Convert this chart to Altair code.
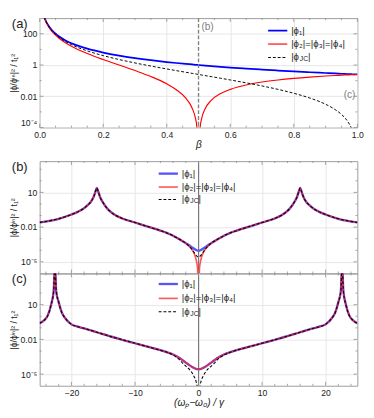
import altair as alt
import pandas as pd

# ---------------- data: panel (a) ----------------
beta = [0.01, 0.015, 0.02, 0.03, 0.04, 0.05, 0.06, 0.08, 0.1, 0.12, 0.15, 0.2, 0.25, 0.3, 0.35,
        0.4, 0.43, 0.46, 0.48, 0.49, 0.495, 0.5, 0.505, 0.51, 0.52, 0.54, 0.57, 0.6, 0.65, 0.7,
        0.75, 0.8, 0.85, 0.9, 0.93, 0.95, 0.97, 0.98, 0.99, 1.0]
phi1_a = [2500, 1111, 625, 278, 156, 100, 69.4, 39.1, 25, 17.4, 11.1, 6.25, 4.0, 2.78, 2.04,
          1.56, 1.35, 1.18, 1.085, 1.04, 1.02, 1.0, 0.98, 0.961, 0.925, 0.857, 0.769, 0.694, 0.592, 0.510,
          0.444, 0.391, 0.346, 0.309, 0.289, 0.277, 0.266, 0.260, 0.255, 0.25]
phi2_a = [2401, 1045, 576, 245, 132, 81, 53.8, 27.6, 16, 10.0, 5.44, 2.25, 1.0, 0.444, 0.184,
          0.0625, 0.0265, 0.00756, 0.00174, 4.16e-4, 1.02e-4, 1e-9, 9.8e-5, 3.84e-4, 1.48e-3, 5.49e-3, 0.0151, 0.0278, 0.0533, 0.0816,
          0.111, 0.1406, 0.1696, 0.1975, 0.2138, 0.2244, 0.2348, 0.2399, 0.245, 0.25]
phijc_a = [2450, 1078, 600, 261, 144, 90.25, 61.4, 33.06, 20.25, 13.44, 8.03, 4.0, 2.25, 1.361, 0.862,
           0.5625, 0.439, 0.3445, 0.2934, 0.2708, 0.2603, 0.25, 0.2402, 0.2308, 0.2130, 0.1814, 0.1423, 0.111, 0.0725, 0.0459,
           0.0278, 0.0156, 0.00779, 0.00309, 0.001416, 6.93e-4, 2.39e-4, 1.04e-4, 2.55e-5, 1e-9]
marker_beta = [0.5]
label_c_beta = [1.0]
label_c_val = [0.012]
xmaj_a = [0, 0.2, 0.4, 0.6, 0.8, 1.0]
xmin_a = [0.05, 0.1, 0.15, 0.25, 0.3, 0.35, 0.45, 0.5, 0.55, 0.65, 0.7, 0.75, 0.85, 0.9, 0.95]
ymaj_a = [1e-4, 0.01, 1, 100]
ymin_a = [1e-3, 0.1, 10]

# ---------------- data: panel (b) ----------------
delta_b = [-25, -22, -20, -19, -18, -17.5, -17, -16.5, -16.2, -16, -15.8, -15.5, -15, -14.5, -14,
           -13, -12, -10, -8, -6, -5, -4, -3, -2, -1.5, -1, -0.75, -0.5, -0.3, -0.15,
           0,
           0.15, 0.3, 0.5, 0.75, 1, 1.5, 2, 3, 4, 5, 6, 8, 10, 12, 13,
           14, 14.5, 15, 15.5, 15.8, 16, 16.2, 16.5, 17, 17.5, 18, 19, 20, 22, 25]
phi1_b = [0.0257, 0.0525, 0.123, 0.209, 0.437, 0.76, 1.41, 4.17, 12.6, 24, 12.6, 3.98, 1.26, 0.501, 0.251,
          0.1, 0.0562, 0.0251, 0.0112, 0.005, 0.00316, 0.00178, 8.9e-4, 4.17e-4, 2.69e-4, 1.78e-4, 1.41e-4, 1.17e-4, 1.02e-4, 9.5e-5,
          9.3e-5,
          9.5e-5, 1.02e-4, 1.17e-4, 1.41e-4, 1.78e-4, 2.69e-4, 4.17e-4, 8.9e-4, 0.00178, 0.00316, 0.005, 0.0112, 0.0251, 0.0562, 0.1,
          0.251, 0.501, 1.26, 3.98, 12.6, 24, 12.6, 4.17, 1.41, 0.76, 0.437, 0.209, 0.123, 0.0525, 0.0257]
phi2_b = [0.0257, 0.0525, 0.123, 0.209, 0.437, 0.76, 1.41, 4.17, 12.6, 24, 12.6, 3.98, 1.26, 0.501, 0.251,
          0.1, 0.0562, 0.0251, 0.0112, 0.005, 0.00316, 0.00178, 8.9e-4, 3.98e-4, 2.29e-4, 1.1e-4, 6.3e-5, 2.75e-5, 1.0e-5, 2.5e-6,
          1e-9,
          2.5e-6, 1.0e-5, 2.75e-5, 6.3e-5, 1.1e-4, 2.29e-4, 3.98e-4, 8.9e-4, 0.00178, 0.00316, 0.005, 0.0112, 0.0251, 0.0562, 0.1,
          0.251, 0.501, 1.26, 3.98, 12.6, 24, 12.6, 4.17, 1.41, 0.76, 0.437, 0.209, 0.123, 0.0525, 0.0257]
phijc_b = [0.0257, 0.0525, 0.123, 0.209, 0.437, 0.76, 1.41, 4.17, 12.6, 24, 12.6, 3.98, 1.26, 0.501, 0.251,
           0.1, 0.0562, 0.0251, 0.0112, 0.005, 0.00316, 0.00178, 8.9e-4, 4.07e-4, 2.34e-4, 1.12e-4, 7.1e-5, 4.47e-5, 3.31e-5, 2.82e-5,
           2.63e-5,
           2.82e-5, 3.31e-5, 4.47e-5, 7.1e-5, 1.12e-4, 2.34e-4, 4.07e-4, 8.9e-4, 0.00178, 0.00316, 0.005, 0.0112, 0.0251, 0.0562, 0.1,
           0.251, 0.501, 1.26, 3.98, 12.6, 24, 12.6, 4.17, 1.41, 0.76, 0.437, 0.209, 0.123, 0.0525, 0.0257]

# ---------------- data: panel (c) ----------------
delta_c = [-25, -24.3, -23.7, -23.2, -22.8, -22.6, -22.4, -22, -21.5, -21, -20, -19, -18, -16, -14,
           -12, -10, -8, -6, -5, -4, -3, -2.5, -2, -1.5, -1, -0.7, -0.4, -0.2,
           0,
           0.2, 0.4, 0.7, 1, 1.5, 2, 2.5, 3, 4, 5, 6, 8, 10, 12,
           14, 16, 18, 19, 20, 21, 21.5, 22, 22.4, 22.6, 22.8, 23.2, 23.7, 24.3, 25]
phi1_c = [0.251, 0.447, 1.26, 10, 150, 31600, 150, 15.8, 2.0, 0.708, 0.2, 0.126, 0.0891, 0.0417, 0.0191,
          0.00933, 0.00468, 0.00234, 0.00117, 7.94e-4, 5.01e-4, 2.51e-4, 1.58e-4, 1.0e-4, 6.31e-5, 4.17e-5, 3.39e-5, 2.88e-5, 2.69e-5,
          2.63e-5,
          2.69e-5, 2.88e-5, 3.39e-5, 4.17e-5, 6.31e-5, 1.0e-4, 1.58e-4, 2.51e-4, 5.01e-4, 7.94e-4, 0.00117, 0.00234, 0.00468, 0.00933,
          0.0191, 0.0417, 0.0891, 0.126, 0.2, 0.708, 2.0, 15.8, 150, 31600, 150, 10, 1.26, 0.447, 0.251]
phi2_c = [0.251, 0.447, 1.26, 10, 150, 31600, 150, 15.8, 2.0, 0.708, 0.2, 0.126, 0.0891, 0.0417, 0.0191,
          0.00933, 0.00468, 0.00234, 0.00117, 7.94e-4, 5.01e-4, 2.51e-4, 1.58e-4, 1.0e-4, 6.31e-5, 4.17e-5, 3.39e-5, 2.88e-5, 2.69e-5,
          2.63e-5,
          2.69e-5, 2.88e-5, 3.39e-5, 4.17e-5, 6.31e-5, 1.0e-4, 1.58e-4, 2.51e-4, 5.01e-4, 7.94e-4, 0.00117, 0.00234, 0.00468, 0.00933,
          0.0191, 0.0417, 0.0891, 0.126, 0.2, 0.708, 2.0, 15.8, 150, 31600, 150, 10, 1.26, 0.447, 0.251]
phijc_c = [0.251, 0.447, 1.26, 10, 150, 31600, 150, 15.8, 2.0, 0.708, 0.2, 0.126, 0.0891, 0.0417, 0.0191,
           0.00933, 0.00468, 0.00234, 0.00117, 7.94e-4, 4.47e-4, 1.78e-4, 8.9e-5, 5.01e-5, 2.82e-5, 1.26e-5, 6.3e-6, 2.5e-6, 6.3e-7,
           1e-10,
           6.3e-7, 2.5e-6, 6.3e-6, 1.26e-5, 2.82e-5, 5.01e-5, 8.9e-5, 1.78e-4, 4.47e-4, 7.94e-4, 0.00117, 0.00234, 0.00468, 0.00933,
           0.0191, 0.0417, 0.0891, 0.126, 0.2, 0.708, 2.0, 15.8, 150, 31600, 150, 10, 1.26, 0.447, 0.251]
xmaj_bc = [-20, -10, 0, 10, 20]
xmin_bc = [-24, -22, -18, -16, -14, -12, -8, -6, -4, -2, 2, 4, 6, 8, 12, 14, 16, 18, 22, 24]
ymaj_bc = [1e-5, 0.01, 10]
ymin_bc = [1e-4, 1e-3, 0.1, 1, 100, 1000]

# ---------------- style ----------------
FONT = "Liberation Sans"
BLUE = "#0000ff"
RED = "#ff0000"
GRID = "#e6e6e6"
FRAME = "#9a9a9a"
TICK = "#8a8a8a"
TXT = "#222222"
W = 331
HA, HB, HC = 114, 117, 117
YTITLE = "|ϕ/ϕⁱⁿ|² / t₁²"
LEFT = -29


def long_df(x, series):
    rows = []
    for name, vals in series:
        for xi, vi in zip(x, vals):
            rows.append({"x": xi, "v": vi, "s": name})
    return pd.DataFrame(rows)


def x_axis(values, fmt, labels, title, title_italic=True):
    kw = dict(values=values, grid=True, gridColor=GRID, domain=False, ticks=False, tickSize=0,
              labelFont=FONT, labelFontSize=9, labelColor=TXT, labelPadding=3, labelFlush=False)
    if fmt:
        kw["format"] = fmt
    if not labels:
        kw["labels"] = False
    if title:
        kw.update(title=title, titleFont=FONT, titleFontSize=10.5, titleFontWeight="normal",
                  titleColor=TXT, titlePadding=1)
        if title_italic:
            kw["titleFontStyle"] = "italic"
    else:
        kw["title"] = None
    return alt.Axis(**kw)


def y_axis(values, expr, flush):
    return alt.Axis(values=values, labelExpr=expr, grid=True, gridColor=GRID, domain=False,
                    ticks=False, tickSize=0, labelFont=FONT, labelFontSize=9, labelFlush=flush,
                    labelColor=TXT, labelPadding=3, title=YTITLE, titleFont=FONT, titleFontSize=9,
                    titleFontWeight="normal", titleColor=TXT, titlePadding=2)


def lines(df, xenc, yenc, styles):
    base = alt.Chart(df).encode(x=xenc, y=yenc)
    out = []
    for name, color, width, dash, op in styles:
        kw = dict(color=color, strokeWidth=width, opacity=op, clip=True, interpolate="monotone")
        if dash:
            kw["strokeDash"] = dash
        out.append(base.transform_filter(alt.datum.s == name).mark_line(**kw))
    return out


def frame_ticks(xmaj, xmin, ymaj, ymin, xscale, yscale, w, h):
    out = []
    for vals, size in [(xmaj, 4), (xmin, 2)]:
        d = pd.DataFrame({"x": vals})
        for y0, y1 in [(0, size), (h, h - size)]:
            out.append(alt.Chart(d).mark_rule(color=TICK, strokeWidth=0.8).encode(
                x=alt.X("x:Q", scale=xscale), y=alt.value(y0), y2=alt.value(y1)))
    for vals, size in [(ymaj, 4), (ymin, 2)]:
        d = pd.DataFrame({"v": vals})
        for x0, x1 in [(0, size), (w, w - size)]:
            out.append(alt.Chart(d).mark_rule(color=TICK, strokeWidth=0.8).encode(
                y=alt.Y("v:Q", scale=yscale), x=alt.value(x0), x2=alt.value(x1)))
    return out


def legend(x0, ys, styles, labels):
    one = pd.DataFrame({"k": [0]})
    out = []
    for y, (name, color, width, dash, op), lab in zip(ys, styles, labels):
        kw = dict(color=color, strokeWidth=width, opacity=op)
        if dash:
            kw["strokeDash"] = dash
        out.append(alt.Chart(one).mark_rule(**kw).encode(
            x=alt.value(x0), x2=alt.value(x0 + 20), y=alt.value(y)))
        tx = x0 + 24
        if isinstance(lab, tuple):
            main, sub, tail, w1, w2 = lab
            out.append(alt.Chart(one).mark_text(font=FONT, fontSize=10, align="left", baseline="middle",
                                                color=TXT).encode(x=alt.value(tx), y=alt.value(y), text=alt.value(main)))
            out.append(alt.Chart(one).mark_text(font=FONT, fontSize=7, align="left", baseline="middle",
                                                color=TXT).encode(x=alt.value(tx + w1), y=alt.value(y + 2), text=alt.value(sub)))
            out.append(alt.Chart(one).mark_text(font=FONT, fontSize=10, align="left", baseline="middle",
                                                color=TXT).encode(x=alt.value(tx + w2), y=alt.value(y), text=alt.value(tail)))
        else:
            out.append(alt.Chart(one).mark_text(font=FONT, fontSize=10, align="left", baseline="middle",
                                                color=TXT).encode(x=alt.value(tx), y=alt.value(y), text=alt.value(lab)))
    return out


def panel_label(t):
    return alt.Chart(pd.DataFrame({"k": [0]})).mark_text(
        font=FONT, fontSize=13.5, align="left", baseline="top", color=TXT
    ).encode(x=alt.value(LEFT), y=alt.value(-1), text=alt.value(t))


LABELS = ["|ϕ₁|", "|ϕ₂|=|ϕ₃|=|ϕ₄|", ("|ϕ", "JC", "|", 9, 17.5)]

# ---------------- panel (a) ----------------
df_a = long_df(beta, [("p1", phi1_a), ("p2", phi2_a), ("jc", phijc_a)])
xs_a = alt.Scale(domain=[0, 1], nice=False, zero=False)
ys_a = alt.Scale(type="log", domain=[1e-4, 1e3], nice=False)
xa = alt.X("x:Q", scale=xs_a, axis=x_axis(xmaj_a, ".1f", True, "β"))
ya = alt.Y("v:Q", scale=ys_a,
           axis=y_axis(ymaj_a,
                       "datum.value < 0.001 ? '10⁻⁴' : datum.value < 0.1 ? '0.01' : datum.value < 10 ? '1' : '100'",
                       True))
sty_a = [("p1", BLUE, 1.8, None, 1), ("p2", RED, 1.2, None, 1), ("jc", "#000000", 1.0, [3, 2], 1)]
vline = alt.Chart(pd.DataFrame({"x": marker_beta})).mark_rule(
    color="#808080", strokeWidth=1.4, strokeDash=[4, 2]).encode(x=alt.X("x:Q", scale=xs_a))
lab_b = alt.Chart(pd.DataFrame({"x": marker_beta})).mark_text(
    font=FONT, fontSize=10.5, color="#808080", align="left", baseline="top", dx=3
).encode(x=alt.X("x:Q", scale=xs_a), y=alt.value(4), text=alt.value("(b)"))
lab_c = alt.Chart(pd.DataFrame({"x": label_c_beta, "v": label_c_val})).mark_text(
    font=FONT, fontSize=10.5, color="#808080", align="right", baseline="middle", dx=-2
).encode(x=alt.X("x:Q", scale=xs_a), y=alt.Y("v:Q", scale=ys_a), text=alt.value("(c)"))
leg_a = legend(238, [13, 27, 41], sty_a, LABELS)
ticks_a = frame_ticks(xmaj_a, xmin_a, ymaj_a, ymin_a, xs_a, ys_a, W, HA)
pa = alt.layer(*lines(df_a, xa, ya, sty_a), vline, *ticks_a, lab_b, lab_c, *leg_a,
               panel_label("(a)")).properties(width=W, height=HA)

# ---------------- panels (b), (c) ----------------
sty_bc = [("p1", "#2b2bff", 2.4, None, 0.8), ("p2", "#ff2020", 1.7, None, 0.75), ("jc", "#000000", 1.1, [3, 2], 1)]
yexpr = "datum.value < 0.001 ? '10⁻⁵' : datum.value < 1 ? '0.01' : '10'"
zero_df = pd.DataFrame({"x": [0]})


def panel_bc(delta, p1, p2, pjc, show_x, tag, legy):
    df = long_df(delta, [("p1", p1), ("p2", p2), ("jc", pjc)])
    xs = alt.Scale(domain=[-25, 25], nice=False, zero=False)
    ys = alt.Scale(type="log", domain=[1e-6, 5000], nice=False)
    xe = alt.X("x:Q", scale=xs,
               axis=x_axis(xmaj_bc, "d", show_x, "(ωₚ−ω₀) / γ" if show_x else None))
    ye = alt.Y("v:Q", scale=ys, axis=y_axis(ymaj_bc, yexpr, False))
    zl = alt.Chart(zero_df).mark_rule(color="#707070", strokeWidth=1).encode(x=alt.X("x:Q", scale=xs))
    leg = legend(124, legy, sty_bc, LABELS)
    h = HB if not show_x else HC
    tk = frame_ticks(xmaj_bc, xmin_bc, ymaj_bc, ymin_bc, xs, ys, W, h)
    ls = lines(df, xe, ye, sty_bc)
    return alt.layer(ls[0], zl, *ls[1:], *tk, *leg,
                     panel_label(tag)).properties(width=W, height=h)


pb = panel_bc(delta_b, phi1_b, phi2_b, phijc_b, False, "(b)", [13, 27, 40])
pc = panel_bc(delta_c, phi1_c, phi2_c, phijc_c, True, "(c)", [11, 26, 40])

chart = alt.vconcat(
    pa,
    alt.vconcat(pb, pc, spacing=0, bounds="flush"),
    spacing=35, bounds="flush"
).properties(padding={"left": 0, "top": 0, "right": 2, "bottom": 0}).configure_view(
    stroke=FRAME, strokeWidth=1
)

chart.save("out.html", embed_options={"renderer": "svg", "actions": False})
